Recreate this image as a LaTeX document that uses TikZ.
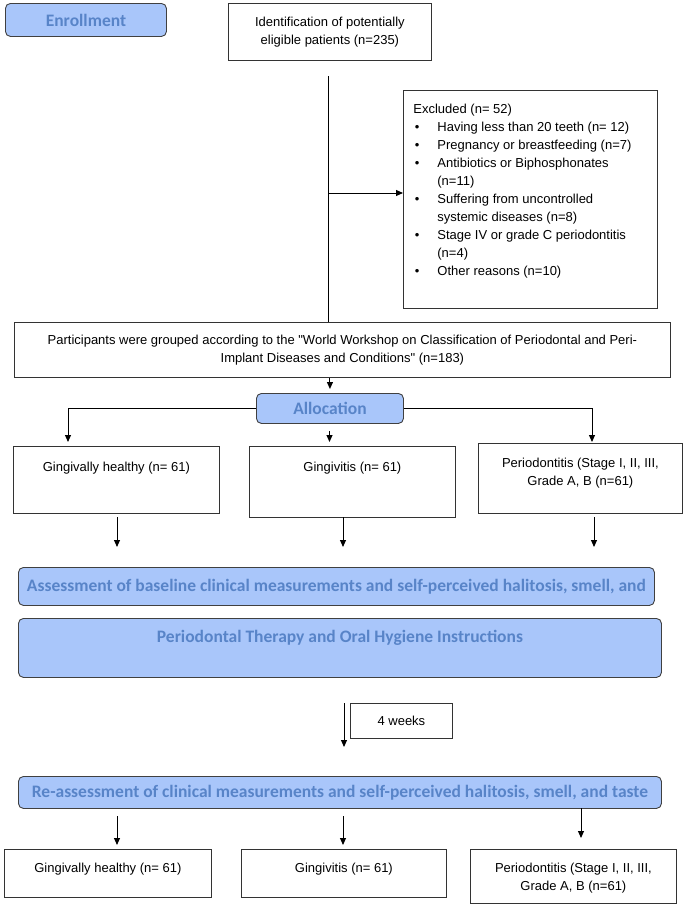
\documentclass[tikz,border=0pt]{standalone}
\usepackage{fontspec}
\setmainfont{Liberation Sans}
\newfontfamily\calibfont{Carlito}
\usetikzlibrary{arrows.meta, positioning, calc}
\definecolor{barfill}{RGB}{169,198,250}
\definecolor{bartext}{RGB}{88,132,200}
\newcommand{\boxfont}{\fontsize{13}{18}\selectfont}
\newcommand{\topcell}[4]{\parbox[t][#2][t]{#1}{\centering\rule{0pt}{#3}#4}}
\newcommand{\bul}{\hspace*{11.5pt}\makebox[22.5pt][l]{\textbullet}}
\newcommand{\cont}{\hspace*{34pt}}
\tikzset{
  plain/.style={draw=black!80, line width=0.8pt, inner sep=0pt, anchor=north west, font=\boxfont},
  bar/.style  ={draw=black!75, line width=0.9pt, fill=barfill, rounded corners=5pt, inner sep=0pt,
                anchor=north west, text=bartext, font=\calibfont\bfseries\fontsize{17.5}{20}\selectfont},
  tag/.style  ={bar, font=\calibfont\bfseries\fontsize{17.5}{20}\selectfont},
  arr/.style  ={-{Triangle[length=7pt,width=6pt]}, line width=1pt},
  link/.style ={line width=1pt},
}
\begin{document}
\begin{tikzpicture}[x=1pt, y=-1pt]
  \useasboundingbox (0,0) rectangle (685,908);
  % enrollment
  \node[tag, minimum width=161pt, minimum height=33pt] (enrol) at (5,3) {Enrollment};
  \node[plain, align=center, minimum width=203pt, minimum height=57pt] (ident) at (228,3)
    {Identification of potentially\\eligible patients (n=235)};
  \node[plain] (excl) at (403,90) {\parbox[t][218pt][t]{254pt}{\raggedright\rule{0pt}{22.7pt}%
    \hspace*{10pt}Excluded (n= 52)\\
    \bul Having less than 20 teeth (n= 12)\\
    \bul Pregnancy or breastfeeding (n=7)\\
    \bul Antibiotics or Biphosphonates\\
    \cont(n=11)\\
    \bul Suffering from uncontrolled\\
    \cont systemic diseases (n=8)\\
    \bul Stage IV or grade C periodontitis\\
    \cont(n=4)\\
    \bul Other reasons (n=10)}};
  \node[plain, align=center, minimum width=656pt, minimum height=55pt] (part) at (14,322)
    {Participants were grouped according to the \textquotedbl World Workshop on Classification of Periodontal and Peri-\\Implant Diseases and Conditions\textquotedbl{} (n=183)};
  % allocation
  \node[tag, minimum width=147pt, minimum height=30pt] (alloc) at (256,393) {Allocation};
  \node[plain] (gL) at (13,446)  {\topcell{206pt}{67pt}{25pt}{Gingivally healthy (n= 61)}};
  \node[plain] (gM) at (249,446) {\topcell{206pt}{71pt}{25pt}{Gingivitis (n= 61)}};
  \node[plain] (gR) at (478,443) {\topcell{204pt}{70pt}{24pt}{Periodontitis (Stage I, II, III,\\Grade A, B (n=61)}};
  % follow-up
  \node[bar, minimum width=636pt, minimum height=38pt] (assess) at (18,567)
    {Assessment of baseline clinical measurements and self-perceived halitosis, smell, and};
  \node[bar] (therapy) at (18,618) {\topcell{643pt}{59pt}{24pt}{Periodontal Therapy and Oral Hygiene Instructions}};
  \node[plain, minimum width=102pt, minimum height=35pt] (wk) at (350,703) {4 weeks};
  \node[bar, minimum width=643pt, minimum height=32pt] (reass) at (18,776)
    {Re-assessment of clinical measurements and self-perceived halitosis, smell, and taste};
  \node[plain] (bL) at (4,849)   {\topcell{207pt}{48pt}{22.7pt}{Gingivally healthy (n= 61)}};
  \node[plain] (bM) at (241,849) {\topcell{205pt}{48pt}{22.7pt}{Gingivitis (n= 61)}};
  \node[plain] (bR) at (470,849) {\topcell{206pt}{54pt}{22.7pt}{Periodontitis (Stage I, II, III,\\Grade A, B (n=61)}};
  % connectors
  \coordinate (trunk) at (328,76);
  \coordinate (exA) at (328,193);
  \draw[link] (trunk) -- (trunk |- part.north);
  \draw[arr] (exA) -- (exA -| excl.west);
  \draw[arr, shorten >=4pt] (part.south -| alloc.north) -- (alloc.north);
  \coordinate (dL) at (68,442);
  \coordinate (dR) at (592,442);
  \draw[arr] (alloc.west) -| (dL);
  \draw[arr] (alloc.east) -| (dR);
  \coordinate (mA) at (329.5,431);
  \draw[arr, shorten >=4pt] (mA) -- (mA |- gM.north);
  \foreach \n/\x in {L/117, M/343, R/594} {
    \coordinate (u\n) at (\x,517);
    \coordinate (v\n) at (\x,547);
    \draw[arr] (u\n) -- (v\n);
  }
  \coordinate (w1) at (344,703);
  \coordinate (w2) at (344,747);
  \draw[arr] (w1) -- (w2);
  \coordinate (rL) at (117,816);
  \coordinate (rM) at (343,816);
  \draw[arr, shorten >=4pt] (rL) -- (rL |- bL.north);
  \draw[arr, shorten >=4pt] (rM) -- (rM |- bM.north);
  \coordinate (rR) at (581,808);
  \draw[arr] (rR) -- (581,838);
\end{tikzpicture}
\end{document}
